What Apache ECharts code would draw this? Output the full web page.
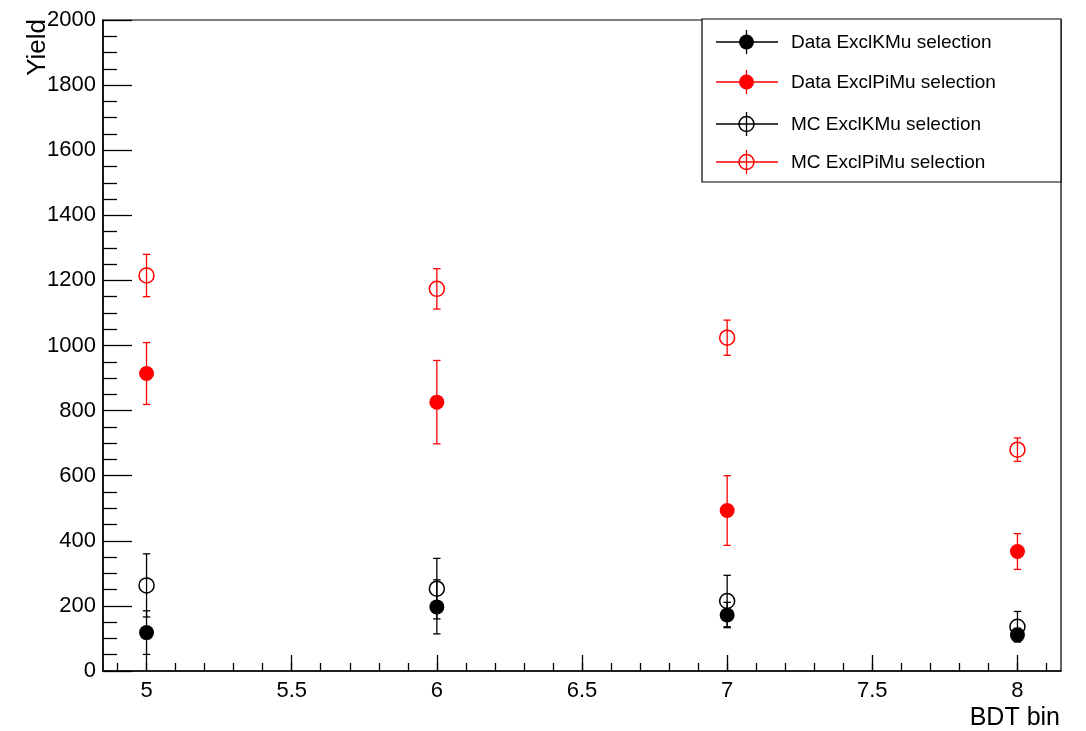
<!DOCTYPE html>
<html>
<head>
<meta charset="utf-8">
<script src="https://cdn.jsdelivr.net/npm/echarts@6/dist/echarts.min.js"></script>
<style>
html,body{margin:0;padding:0;background:#fff;}
#main{width:1086px;height:731px;}
</style>
</head>
<body>
<div id="main"></div>
<script>
// ---- data ----
var xBins = [5, 6, 7, 8];
var dataKMu = [118, 197, 172, 111];
var dataKMuErr = [67, 83, 39, 20];
var dataPiMu = [914, 826, 493, 367];
var dataPiMuErr = [95, 128, 107, 55];
var mcKMu = [263, 253, 215, 136];
var mcKMuErr = [97, 93, 79, 47];
var mcPiMu = [1215, 1174, 1024, 680];
var mcPiMuErr = [65, 62, 54, 36];
var seriesNames = ['Data ExclKMu selection', 'Data ExclPiMu selection', 'MC ExclKMu selection', 'MC ExclPiMu selection'];
var xTickLabels = [5, 5.5, 6, 6.5, 7, 7.5, 8];
var yTickLabels = [0, 200, 400, 600, 800, 1000, 1200, 1400, 1600, 1800, 2000];
var xTitle = 'BDT bin';
var yTitle = 'Yield';

var xMinorTicks = [];
for (var k = 49; k <= 81; k++) { xMinorTicks.push(k / 10); }

var FONT = '"Liberation Sans", Arial, Helvetica, sans-serif';
var colors = ['#000000', '#ff0000', '#000000', '#ff0000'];
var filled = [true, true, false, false];
var vals = [dataKMu, dataPiMu, mcKMu, mcPiMu];
var errs = [dataKMuErr, dataPiMuErr, mcKMuErr, mcPiMuErr];

function errData(v, e) {
  return xBins.map(function (x, i) { return [x, v[i], e[i]]; });
}
function ptData(v) {
  return xBins.map(function (x, i) { return [x, v[i]]; });
}

function makeErrRender(color) {
  return function (params, api) {
    var x = api.value(0), v = api.value(1), e = api.value(2);
    var top = api.coord([x, v + e]);
    var bot = api.coord([x, v - e]);
    var cw = 3.7;
    var st = { stroke: color, lineWidth: 1.3 };
    return {
      type: 'group',
      children: [
        { type: 'line', shape: { x1: top[0], y1: top[1], x2: bot[0], y2: bot[1] }, style: st },
        { type: 'line', shape: { x1: top[0] - cw, y1: top[1], x2: top[0] + cw, y2: top[1] }, style: st },
        { type: 'line', shape: { x1: bot[0] - cw, y1: bot[1], x2: bot[0] + cw, y2: bot[1] }, style: st }
      ]
    };
  };
}

var series = [];
for (var s = 0; s < 4; s++) {
  series.push({
    type: 'custom',
    name: seriesNames[s] + ' err',
    xAxisIndex: 0, yAxisIndex: 0,
    renderItem: makeErrRender(colors[s]),
    data: errData(vals[s], errs[s]),
    encode: { x: 0, y: 1 },
    z: 2 + s * 2,
    silent: true
  });
  series.push({
    type: 'scatter',
    name: seriesNames[s],
    xAxisIndex: 0, yAxisIndex: 0,
    symbol: 'circle',
    symbolSize: 15,
    data: ptData(vals[s]),
    itemStyle: filled[s]
      ? { color: colors[s], borderWidth: 0, opacity: 1 }
      : { color: 'rgba(0,0,0,0)', borderColor: colors[s], borderWidth: 1.5, opacity: 1 },
    z: 3 + s * 2,
    silent: true
  });
}

// legend drawn as graphic
var legX = 702, legY = 19, legW = 359, legH = 163;
var rowY = [42, 82, 124, 162];
var legendEls = [{
  type: 'rect', shape: { x: legX, y: legY, width: legW, height: legH },
  style: { fill: '#fff', stroke: '#000', lineWidth: 1.2 }, z: 100
}];
for (var r = 0; r < 4; r++) {
  var yy = rowY[r], c = colors[r];
  legendEls.push({ type: 'line', shape: { x1: 716, y1: yy, x2: 778, y2: yy }, style: { stroke: c, lineWidth: 1.3 }, z: 101 });
  legendEls.push({ type: 'line', shape: { x1: 746.5, y1: yy - 12, x2: 746.5, y2: yy + 12 }, style: { stroke: c, lineWidth: 1.3 }, z: 101 });
  legendEls.push({
    type: 'circle', shape: { cx: 746.5, cy: yy, r: 7.5 },
    style: filled[r] ? { fill: c } : { fill: 'rgba(0,0,0,0)', stroke: c, lineWidth: 1.5 }, z: 102
  });
  legendEls.push({
    type: 'text', x: 791, y: yy + 1,
    style: { text: seriesNames[r], fill: '#000', font: '19px ' + FONT, textAlign: 'left', textVerticalAlign: 'middle' },
    z: 102
  });
}
legendEls.push({
  type: 'text', x: 1060, y: 718,
  style: { text: xTitle, fill: '#000', font: '25px ' + FONT, textAlign: 'right', textVerticalAlign: 'middle' }, z: 100
});
legendEls.push({
  type: 'text', x: 38, y: 19, rotation: Math.PI / 2,
  style: { text: yTitle, fill: '#000', font: '26px ' + FONT, textAlign: 'right', textVerticalAlign: 'middle' }, z: 100
});

var chart = echarts.init(document.getElementById('main'), null, { renderer: 'canvas' });
chart.setOption({
  animation: false,
  backgroundColor: '#fff',
  grid: { left: 103, right: 25, top: 20, bottom: 60, show: true, borderColor: '#000', borderWidth: 1.2, backgroundColor: 'transparent' },
  xAxis: [{
    type: 'value', min: 4.85, max: 8.15,
    axisLine: { show: true, onZero: false, lineStyle: { color: '#000', width: 1.5 } },
    axisTick: { show: true, inside: true, length: 16, customValues: xTickLabels, lineStyle: { color: '#000', width: 1.3 } },
    axisLabel: { show: true, customValues: xTickLabels, color: '#000', fontSize: 22, fontFamily: FONT, margin: 9,
      formatter: function (v) { return String(v); } },
    splitLine: { show: false }
  }, {
    type: 'value', min: 4.85, max: 8.15, position: 'bottom',
    axisLine: { show: false, onZero: false },
    axisTick: { show: true, inside: true, length: 8, customValues: xMinorTicks, lineStyle: { color: '#000', width: 1.3 } },
    axisLabel: { show: false },
    splitLine: { show: false }
  }],
  yAxis: [{
    type: 'value', min: 0, max: 2000, interval: 200,
    axisLine: { show: true, onZero: false, lineStyle: { color: '#000', width: 1.5 } },
    axisTick: { show: true, inside: true, length: 29, lineStyle: { color: '#000', width: 1.3 } },
    minorTick: { show: true, splitNumber: 4, length: 14, lineStyle: { color: '#000', width: 1.3 } },
    axisLabel: { show: true, color: '#000', fontSize: 22, fontFamily: FONT, margin: 7,
      formatter: function (v) { return yTickLabels.indexOf(v) >= 0 ? String(v) : ''; } },
    splitLine: { show: false },
    minorSplitLine: { show: false }
  }],
  graphic: legendEls,
  series: series
});
</script>
</body>
</html>
